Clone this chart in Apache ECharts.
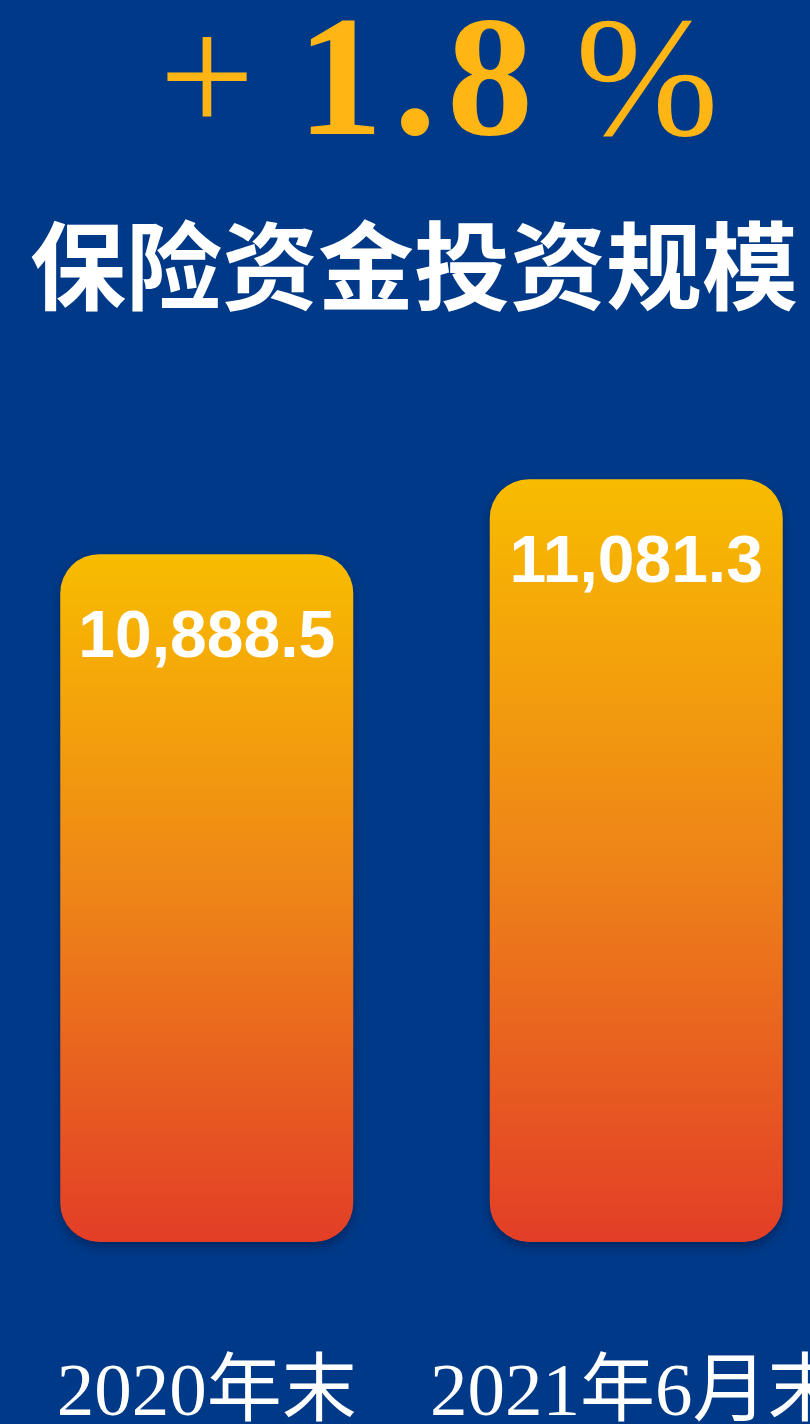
<!DOCTYPE html>
<html>
<head>
<meta charset="utf-8">
<script src="https://cdn.jsdelivr.net/npm/echarts@6/dist/echarts.min.js"></script>
<style>
  html, body { margin: 0; padding: 0; background: #003987; }
  #main { width: 810px; height: 1424px; }
</style>
</head>
<body>
<div id="main"></div>
<script>
// 数据
const categories = ['2020年末', '2021年6月末'];
const investValues = [10888.5, 11081.3];
const growthChars = ['+', '1', '.', '8', '%'];
const titleText = '保险资金投资规模';

const chart = echarts.init(document.getElementById('main'));

const barGradient = new echarts.graphic.LinearGradient(0, 0, 0, 1, [
  { offset: 0, color: '#f8bc00' },
  { offset: 0.5, color: '#ee8418' },
  { offset: 1, color: '#e33e27' },
]);

const bigFont = '"Liberation Serif", "DejaVu Serif", serif';
// 顶部增长率每个字符的中心位置
const growthX = [207, 340, 415, 490, 647];
const growthTop = [3, 4, 4, 4, 4];
const growthSize = [170, 172, 172, 172, 172];
const growthWeight = ['normal', 'bold', 'bold', 'bold', 'normal'];

const growthGraphics = growthChars.map((ch, i) => ({
  type: 'text',
  x: growthX[i],
  y: growthTop[i],
  style: {
    text: ch,
    fill: '#ffb514',
    align: 'center',
    verticalAlign: 'top',
    font: `${growthWeight[i]} ${growthSize[i]}px ${bigFont}`,
  },
}));

chart.setOption({
  backgroundColor: '#003987',
  animation: false,
  graphic: [
    ...growthGraphics,
    {
      type: 'text', left: 30, top: 218,
      style: {
        text: titleText,
        fill: '#ffffff',
        font: 'bold 96px "Noto Sans CJK SC", sans-serif',
      },
    },
  ],
  grid: { left: -8, width: 859, top: 433, bottom: 182, outerBoundsMode: 'none' },
  xAxis: {
    type: 'category',
    data: categories,
    axisLine: { show: false },
    axisTick: { show: false },
    axisLabel: {
      interval: 0,
      margin: 116,
      color: '#ffffff',
      fontSize: 75,
      fontFamily: '"Liberation Serif", "Noto Sans CJK SC", serif',
    },
  },
  yAxis: {
    type: 'value',
    min: 9120,
    max: 11200,
    startValue: 9120,
    show: false,
  },
  series: [
    {
      type: 'bar',
      data: investValues,
      barWidth: 293,
      clip: false,
      itemStyle: {
        color: barGradient,
        borderRadius: 39,
        shadowColor: 'rgba(0, 10, 40, 0.4)',
        shadowBlur: 10,
        shadowOffsetY: 5,
      },
      label: {
        show: true,
        position: 'insideTop',
        distance: 52,
        color: '#ffffff',
        fontSize: 66,
        fontWeight: 'bold',
        fontFamily: '"Liberation Sans", Arial, sans-serif',
        formatter: p => p.value.toLocaleString('en-US', { minimumFractionDigits: 1 }),
      },
    },
  ],
});
</script>
</body>
</html>
